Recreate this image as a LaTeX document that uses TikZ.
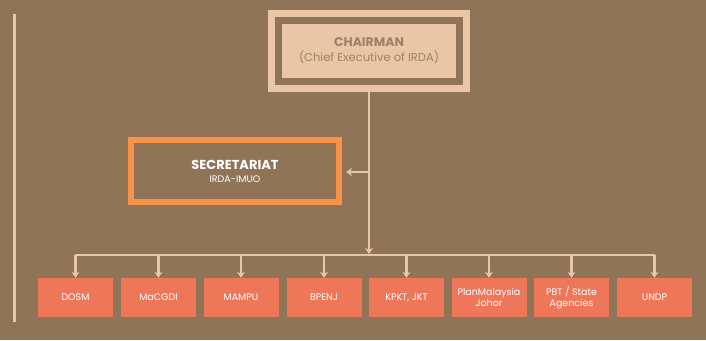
\documentclass[tikz,border=0pt]{standalone}
\usepackage{fontspec}
\setmainfont{Poppins}
\usetikzlibrary{arrows.meta}
\definecolor{bgc}{HTML}{8F7457}
\definecolor{beige}{HTML}{E9C7A6}
\definecolor{salmon}{HTML}{EE775A}
\definecolor{orng}{HTML}{F7944A}
\definecolor{ctext}{HTML}{9A8268}
\begin{document}
\begin{tikzpicture}[x=1pt,y=-1pt,
  conn/.style={draw=beige,line width=2.8pt},
  arr/.style={conn,-{Stealth[length=6pt,width=8pt]}},
  unit/.style={fill=salmon,minimum width=75pt,minimum height=39pt,text=white,font=\fontsize{9.5}{11}\selectfont,align=center,inner sep=1pt}]
\fill[bgc] (0,0) rectangle (706,340);
\useasboundingbox (0,0) rectangle (706,340);
\draw[beige,line width=3pt] (14,14) -- (14,322);
% chairman
\fill[beige] (268,10) rectangle (470,92);
\fill[bgc] (275,17) rectangle (463,85);
\node[fill=beige,minimum width=174pt,minimum height=54pt,inner sep=0pt,
  text=ctext,align=center,font=\fontsize{12.5}{13}\selectfont] (ch) at (369,51)
  {\textbf{CHAIRMAN}\\[2pt]{\fontsize{11.5}{12}\selectfont (Chief Executive of IRDA)}};
\coordinate (chb) at (369,92);
% secretariat
\node[draw=orng,line width=6pt,minimum width=208pt,minimum height=62pt,inner sep=0pt,
  text=white,align=center] (sec) at (235,171)
  {{\fontsize{13}{14}\selectfont\bfseries SECRETARIAT}\\[1pt]{\fontsize{9.5}{10}\selectfont IRDA-IMUO}};
\coordinate (j) at (369,172);
\coordinate (bus) at (369,254);
\coordinate (bl) at (75,255);
\coordinate (br) at (655,255);
\draw[conn] (chb) -- (j);
\draw[arr] (j) -- (bus);
\draw[arr] (j) -- (346,172);
\draw[conn] (bl) -- (br);
% units
\foreach \n/\x/\t in {a/75.5/DOSM,b/158.5/MaCGDI,c/241/MAMPU,d/324/BPENJ,e/406.5/{KPKT, JKT},f/489/{PlanMalaysia\\Johor},g/571.5/{PBT / State\\Agencies},h/654.5/UNDP}{
  \node[unit] (\n) at (\x,297.5) {\t};
  \coordinate (t\n) at (\x,255);
  \draw[arr] (t\n) -- (\n.north);
}
\end{tikzpicture}
\end{document}
